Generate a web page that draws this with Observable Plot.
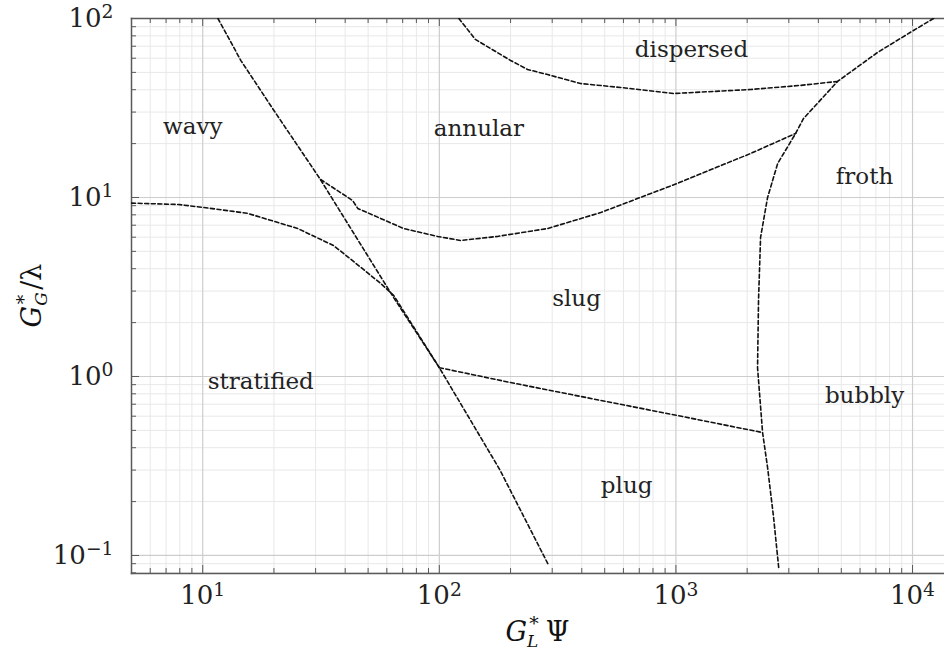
<!DOCTYPE html>
<html>
<head>
<meta charset="utf-8">
<script src="https://cdn.jsdelivr.net/npm/d3@7"></script>
<script src="https://cdn.jsdelivr.net/npm/@observablehq/plot@0.6"></script>
<style>
  html, body { margin: 0; padding: 0; background: #fff; }
  #chart svg { display: block; }
</style>
</head>
<body>
<div id="chart"></div>
<script>
// Baker flow-pattern map: boundaries between two-phase flow regimes.

// Axis ticks (decades) and their exponent labels
const xTicks = [10, 100, 1000, 10000];
const xTickExponents = ["1", "2", "3", "4"];
const yTicks = [0.1, 1, 10, 100];
const yTickExponents = ["\u22121", "0", "1", "2"];

// Boundary: wavy / annular (upper part) and stratified / plug (lower part)
const steepX = [11.6, 14.5, 20.0, 31.2, 64.1, 100, 180, 290];
const steepY = [100, 58.2, 30.6, 12.8, 2.76, 1.12, 0.302, 0.088];

// Boundary: stratified / wavy and stratified / slug
const stratX = [5.0, 7.9, 10.1, 13.5, 15.5, 25.2, 35.7, 41.4, 56.5, 64.1, 100];
const stratY = [9.3, 9.14, 8.79, 8.36, 8.15, 6.71, 5.39, 4.62, 3.31, 2.84, 1.12];

// Boundary: annular / slug (and wavy / slug)
const annularX = [31.5, 43.0, 45.2, 70.6, 98.4, 123, 176, 287, 481, 1016, 1442, 2065, 3207];
const annularY = [12.6, 9.62, 8.69, 6.71, 6.06, 5.75, 6.06, 6.71, 8.24, 12.0, 14.5, 17.6, 22.8];

// Boundary: annular / dispersed
const dispersedX = [121, 142, 200, 236, 287, 395, 583, 977, 2065, 3366, 4820];
const dispersedY = [100, 76.4, 58.3, 51.9, 48.6, 43.3, 41.2, 38.1, 40.1, 42.3, 44.5];

// Boundary: froth / bubbly on the right-hand side
const frothX = [12270, 10090, 7110, 4820, 3459, 3207, 2692, 2440, 2279, 2234, 2213, 2324, 2440, 2587, 2718];
const frothY = [100, 85.7, 64.6, 44.5, 27.6, 22.8, 15.5, 10, 5.98, 2.66, 1.12, 0.486, 0.310, 0.163, 0.0857];

// Boundary: slug / plug
const plugX = [100, 200, 481, 1016, 2324];
const plugY = [1.12, 0.925, 0.735, 0.605, 0.486];

// Regime names and where they sit
const regimeNames = ["wavy", "annular", "dispersed", "froth", "slug", "stratified", "bubbly", "plug"];
const regimeX = [9.07, 147, 1164, 6270, 380, 17.6, 6270, 619];
const regimeY = [24.9, 24.3, 67.1, 13.1, 2.73, 0.937, 0.783, 0.246];

const boundaries = [
  ["steep", steepX, steepY],
  ["stratified", stratX, stratY],
  ["annular", annularX, annularY],
  ["dispersed", dispersedX, dispersedY],
  ["froth", frothX, frothY],
  ["plug", plugX, plugY]
];
const boundaryRows = boundaries.flatMap(([name, xs, ys]) =>
  xs.map((x, i) => ({boundary: name, x, y: ys[i]}))
);
const regimeRows = regimeNames.map((name, i) => ({name, x: regimeX[i], y: regimeY[i]}));

const xLabelOf = new Map(xTicks.map((t, i) => [t, xTickExponents[i]]));
const yLabelOf = new Map(yTicks.map((t, i) => [t, yTickExponents[i]]));

const xDomain = [5.0, 13650];
const yDomain = [0.0793, 100];

// Minor grid positions: 2..9 within each decade
const minorX = [];
for (const d of [1, 10, 100, 1000, 10000]) for (let k = 2; k <= 9; k++) {
  const v = d * k; if (v > xDomain[0] && v < xDomain[1]) minorX.push(v);
}
const minorY = [];
for (const d of [0.01, 0.1, 1, 10]) for (let k = 2; k <= 9; k++) {
  const v = d * k; if (v > yDomain[0] && v < yDomain[1]) minorY.push(v);
}

const W = 944, H = 652;
const mLeft = 131, mTop = 18, mRight = 0, mBottom = 79;
const innerW = W - mLeft - mRight, innerH = H - mTop - mBottom;

const minorColor = "#e8e8e8";
const majorColor = "#cdcdcd";
const frameColor = "#5a5a5a";
const serif = "DejaVu Serif";

const plot = Plot.plot({
  width: W,
  height: H,
  marginLeft: mLeft,
  marginTop: mTop,
  marginRight: mRight,
  marginBottom: mBottom,
  style: {background: "#fff"},
  x: {type: "log", domain: xDomain},
  y: {type: "log", domain: yDomain},
  marks: [
    // grid
    Plot.ruleX(minorX, {stroke: minorColor, strokeWidth: 1}),
    Plot.ruleY(minorY, {stroke: minorColor, strokeWidth: 1}),
    Plot.ruleX(xTicks, {stroke: majorColor, strokeWidth: 1.2}),
    Plot.ruleY(yTicks, {stroke: majorColor, strokeWidth: 1.2}),
    // inward tick marks on bottom, top and left
    Plot.tickX(minorX, {x: d => d, stroke: frameColor, insetTop: innerH - 5}),
    Plot.tickX(xTicks, {x: d => d, stroke: frameColor, insetTop: innerH - 8}),
    Plot.tickX(minorX, {x: d => d, stroke: frameColor, insetBottom: innerH - 5}),
    Plot.tickX(xTicks, {x: d => d, stroke: frameColor, insetBottom: innerH - 8}),
    Plot.tickY(minorY, {y: d => d, stroke: frameColor, insetRight: innerW - 5}),
    Plot.tickY(yTicks, {y: d => d, stroke: frameColor, insetRight: innerW - 8}),
    // frame
    Plot.frame({anchor: "left", stroke: frameColor, strokeWidth: 1.5}),
    Plot.frame({anchor: "bottom", stroke: frameColor, strokeWidth: 1.5}),
    Plot.frame({anchor: "top", stroke: frameColor, strokeWidth: 1.5}),
    // axes (labels only)
    Plot.axisX(xTicks, {
      tickSize: 0, tickPadding: 12, fontSize: 26, fontFamily: serif, label: null, fill: "#222",
      tickFormat: d => "10^" + xLabelOf.get(d)
    }),
    Plot.axisY(yTicks, {
      tickSize: 0, tickPadding: 18, fontSize: 26, fontFamily: serif, label: null, fill: "#222",
      tickFormat: d => "10^" + yLabelOf.get(d)
    }),
    // regime boundaries
    Plot.line(boundaryRows, {
      x: "x", y: "y", z: "boundary",
      stroke: "#111", strokeWidth: 1.6, strokeDasharray: "4,2.6", clip: true
    }),
    // regime names
    Plot.text(regimeRows, {
      x: "x", y: "y", text: "name", fontSize: 23, fontFamily: serif, fill: "#222"
    })
  ]
});

document.getElementById("chart").appendChild(plot);

// Turn "10^n" tick labels into base + superscript
const svg = d3.select(plot);
svg.selectAll("g[aria-label$='tick label'] text").each(function () {
  const t = d3.select(this);
  const parts = t.text().split("^");
  if (parts.length !== 2) return;
  t.text(parts[0]);
  t.append("tspan").attr("dy", "-0.45em").attr("font-size", "0.72em").text(parts[1]);
});

// Axis titles with sub/superscripts
const xt = svg.append("text")
  .attr("x", mLeft + innerW / 2)
  .attr("y", 641)
  .attr("text-anchor", "middle")
  .attr("font-family", serif)
  .attr("font-size", 27)
  .attr("fill", "#111");
xt.append("tspan").attr("font-style", "italic").text("G");
xt.append("tspan").attr("font-size", 17).attr("dy", 6).attr("font-style", "italic").text("L");
xt.append("tspan").attr("font-size", 19).attr("dx", -9).attr("dy", -17).text("*");
xt.append("tspan").attr("dy", 11).attr("dx", 7).text("\u03A8");

const yt = svg.append("text")
  .attr("transform", `translate(41,${mTop + innerH / 2}) rotate(-90)`)
  .attr("text-anchor", "middle")
  .attr("font-family", serif)
  .attr("font-size", 27)
  .attr("fill", "#111");
yt.append("tspan").attr("font-style", "italic").text("G");
yt.append("tspan").attr("font-size", 17).attr("dy", 6).attr("font-style", "italic").text("G");
yt.append("tspan").attr("font-size", 19).attr("dx", -12).attr("dy", -17).text("*");
yt.append("tspan").attr("dy", 11).attr("dx", 5).text("/\u03BB");
</script>
</body>
</html>
